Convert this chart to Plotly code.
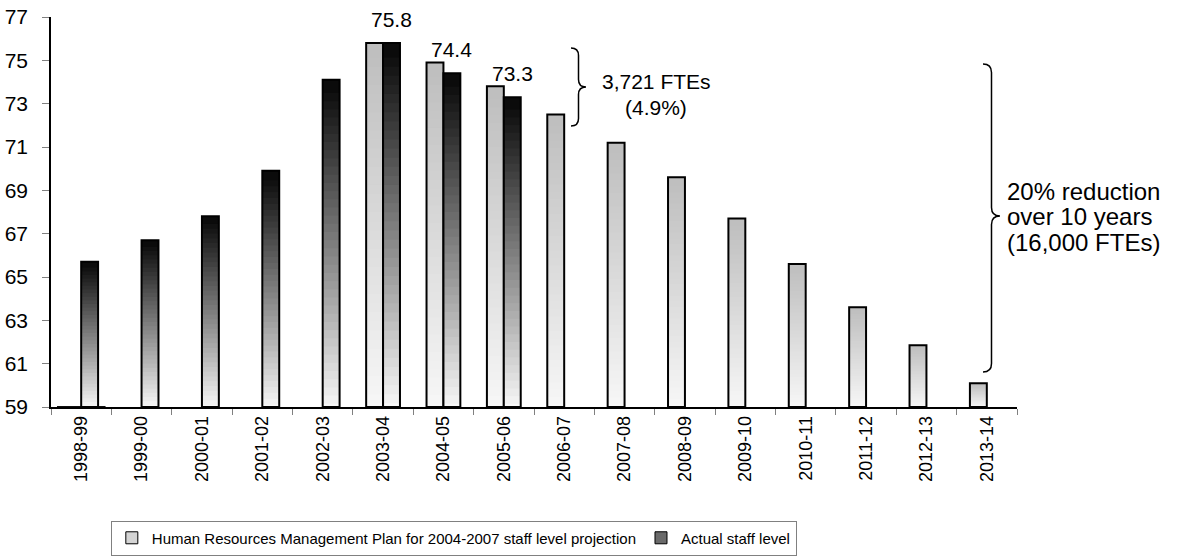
import plotly.graph_objects as go

# 회계연도 (x축 카테고리)
years = ['1998-99', '1999-00', '2000-01', '2001-02', '2002-03', '2003-04', '2004-05', '2005-06',
         '2006-07', '2007-08', '2008-09', '2009-10', '2010-11', '2011-12', '2012-13', '2013-14']

# 계획 (HRMP 2004-2007) 인원 전망, 천 FTE
plan = [None, None, None, None, None, 75.8, 74.9, 73.8,
        72.5, 71.2, 69.6, 67.7, 65.6, 63.6, 61.85, 60.1]

# 실제 인원
actual = [65.7, 66.7, 67.8, 69.9, 74.1, 75.8, 74.4, 73.3,
          None, None, None, None, None, None, None, None]

label_years = ['2003-04', '2004-05', '2005-06']
label_values = [75.8, 74.4, 73.3]

y_min, y_max = 59, 77
plan_name = 'Human Resources Management Plan for 2004-2007 staff level projection'
actual_name = 'Actual staff level'

FONT = 'Liberation Sans, Arial, sans-serif'
N_SLICES = 40
BAR_W = 0.28

# 플롯 영역 픽셀 (괄호 위치 계산용)
W, H = 1179, 558
ML, MR, MT, MB = 51, 162, 17, 151
PW, PH = W - ML - MR, H - MT - MB


def px2paper(x, y):
    return (x - ML) / PW, (H - MB - y) / PH


def brace_path(x0, ytop, ybot, w, ytip=None):
    # 오른쪽을 가리키는 중괄호 }
    if ytip is None:
        ytip = (ytop + ybot) / 2
    xm = x0 + w / 2
    r = w / 2

    def p(x, y):
        a, b = px2paper(x, y)
        return f'{a:.5f},{b:.5f}'
    s = f'M {p(x0, ytop)} Q {p(xm, ytop)} {p(xm, ytop + r)} L {p(xm, ytip - r)} '
    s += f'Q {p(xm, ytip)} {p(x0 + w, ytip)} Q {p(xm, ytip)} {p(xm, ytip + r)} '
    s += f'L {p(xm, ybot - r)} Q {p(xm, ybot)} {p(x0, ybot)}'
    return s


def gradient_bars(fig, values, c_bottom, c_top, offset):
    # 막대 하나를 얇은 조각으로 쌓아서 세로 그라데이션 표현 (이음새 안 보이게 살짝 겹침)
    for k in range(N_SLICES):
        f = (k + 0.5) / N_SLICES
        g = int(round(c_bottom + (c_top - c_bottom) * f))
        bases, heights = [], []
        for v in values:
            if v is None:
                bases.append(None)
                heights.append(None)
            else:
                step = (v - y_min) / N_SLICES
                lap = 0.6 * step if k > 0 else 0
                bases.append(y_min + k * step - lap)
                heights.append(step + lap)
        fig.add_trace(go.Bar(x=years, y=heights, base=bases, offset=offset, width=BAR_W,
                             marker=dict(color=f'rgb({g},{g},{g})', line=dict(width=0)),
                             showlegend=False, hoverinfo='skip'))
    # 테두리
    fig.add_trace(go.Bar(x=years, y=[None if v is None else v - y_min for v in values],
                         base=[None if v is None else y_min for v in values],
                         offset=offset, width=BAR_W,
                         marker=dict(color='rgba(0,0,0,0)', line=dict(color='black', width=2)),
                         showlegend=False, hoverinfo='skip'))


fig = go.Figure()
gradient_bars(fig, plan, 248, 190, -BAR_W)
gradient_bars(fig, actual, 250, 8, 0)

# 범례용 트레이스
fig.add_trace(go.Bar(x=[years[0]], y=[0], base=[y_min], name=plan_name,
                     marker=dict(color='#d4d4d4', line=dict(color='black', width=1))))
fig.add_trace(go.Bar(x=[years[0]], y=[0], base=[y_min], name=actual_name,
                     marker=dict(color='#6a6a6a', line=dict(color='black', width=1))))

for yr, v in zip(label_years, label_values):
    fig.add_annotation(x=yr, y=v, text=f'{v:.1f}', showarrow=False, yanchor='bottom',
                       xshift=8.5, yshift=10, font=dict(size=21, color='black', family=FONT))

# 괄호와 설명
fig.add_shape(type='path', xref='paper', yref='paper',
              path=brace_path(571, 48, 126, 15, 87), line=dict(color='black', width=1.5))
fig.add_shape(type='path', xref='paper', yref='paper',
              path=brace_path(983, 64, 372, 17, 216), line=dict(color='black', width=1.5))

small_lines = ['3,721 FTEs', '(4.9%)']
for i, line in enumerate(small_lines):
    ax, ay = px2paper(656, 82 + 26 * i)
    fig.add_annotation(x=ax, y=ay, xref='paper', yref='paper', showarrow=False,
                       xanchor='center', yanchor='middle',
                       text=line, font=dict(size=21, color='black', family=FONT))

big_lines = ['20% reduction', 'over 10 years', '(16,000 FTEs)']
for i, line in enumerate(big_lines):
    ax, ay = px2paper(1005, 191 + 26 * i)
    fig.add_annotation(x=ax, y=ay, xref='paper', yref='paper', showarrow=False,
                       xanchor='left', yanchor='middle',
                       text=line, font=dict(size=24, color='black', family=FONT))

fig.update_layout(
    width=W, height=H,
    margin=dict(l=ML, r=MR, t=MT, b=MB, autoexpand=False),
    barmode='overlay',
    plot_bgcolor='white', paper_bgcolor='white',
    font=dict(family=FONT, color='black'),
    legend=dict(orientation='h', x=0.417, xanchor='center', y=-0.336, yanchor='middle',
                bordercolor='#808080', borderwidth=1, font=dict(size=15), traceorder='normal',
                itemwidth=30),
)
fig.update_xaxes(type='category', categoryorder='array', categoryarray=years,
                 tickangle=-90, tickson='boundaries', ticks='outside', ticklen=6,
                 tickcolor='#808080', showline=True, linecolor='black', linewidth=1.5,
                 showgrid=False, tickfont=dict(size=18), range=[-0.5, len(years) - 0.5])
fig.update_yaxes(range=[y_min, y_max], dtick=2, tick0=59, ticks='outside', ticklen=7,
                 tickcolor='#808080', showline=True, linecolor='black', linewidth=1.5,
                 showgrid=False, zeroline=False, tickfont=dict(size=21), ticklabelstandoff=10)

# 브라우저 기본 body 여백 제거, 툴바 숨김
fig.write_html('out.html', config={'displayModeBar': False},
               post_script="document.body.style.margin='0';")
